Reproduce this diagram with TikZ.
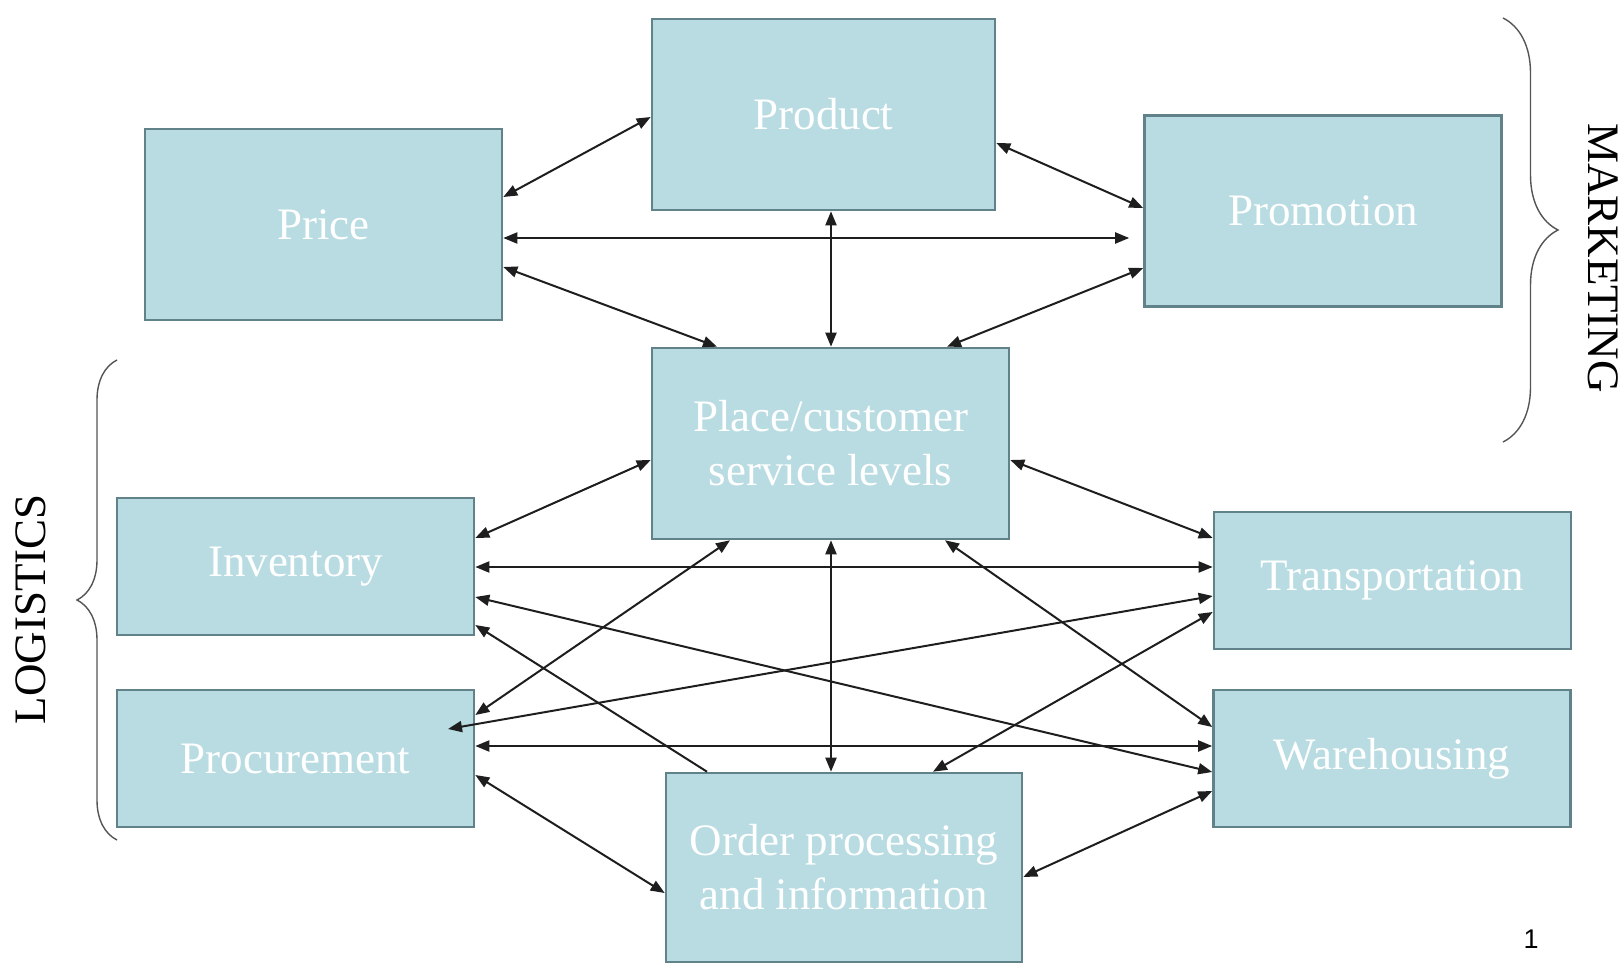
\documentclass[tikz,border=0pt]{standalone}
\usepackage{fontspec}
\setmainfont{Liberation Serif}
\newfontfamily\numfont{Liberation Sans}
\usetikzlibrary{arrows.meta,decorations.pathreplacing}
\definecolor{boxfill}{HTML}{B8DCE2}
\definecolor{boxline}{HTML}{62828A}
\definecolor{arrowcol}{HTML}{1E1E1E}
\definecolor{bracecol}{HTML}{555555}
\tikzset{
  box/.style={draw=boxline, fill=boxfill, line width=2.6pt, text=white,
    font=\fontsize{45}{54}\selectfont, align=center, inner sep=0pt},
  topbox/.style={box, minimum width=357pt, minimum height=191pt},
  lowbox/.style={box, minimum width=357pt, minimum height=137pt},
  dar/.style={line width=2pt, draw=arrowcol,
    arrows={Triangle[length=14pt,width=11pt]-Triangle[length=14pt,width=11pt]}},
  sar/.style={line width=2pt, draw=arrowcol,
    arrows={-Triangle[length=14pt,width=11pt]}},
  bracestyle/.style={draw=bracecol, line width=1.4pt, decorate},
  sidelabel/.style={font=\fontsize{45}{54}\selectfont, text=black, inner sep=0pt}
}
\begin{document}
\begin{tikzpicture}[x=1pt,y=-1pt]
\useasboundingbox[fill=white] (0,0) rectangle (1623,963);

% boxes
\node[box, minimum width=343pt, minimum height=191pt] (product) at (823.5,114.5) {Product};
\node[topbox] (price) at (323.5,224.5) {Price};
\node[topbox] (promo) at (1323,211) {Promotion};
\node[topbox] (place) at (830.5,443.5) {Place/customer\\service levels};
\node[lowbox] (inv) at (295.5,566.5) {Inventory};
\node[lowbox] (proc) at (295.5,758.5) {Procurement};
\node[lowbox] (trans) at (1392.5,580.5) {Transportation};
\node[lowbox] (ware) at (1392,758.5) {Warehousing};
\node[box, minimum width=356pt, minimum height=189pt] (order) at (844,867.5) {Order processing\\and information};

% helper coordinate inside Procurement
\coordinate (procin) at (448,729);

% marketing connectors
\draw[dar] (price.east |- 0,197) -- (product.west |- 0,117);
\draw[dar, shorten >=14pt] (price.east |- 0,238) -- (promo.west |- 0,238);
\draw[dar] (price.east |- 0,267) -- (place.north -| 717,0);
\draw[dar] (product.east |- 0,143) -- (promo.west |- 0,208);
\draw[dar] (product.south -| 831,0) -- (place.north -| 831,0);
\draw[dar] (promo.west |- 0,268) -- (place.north -| 947,0);

% logistics connectors
\draw[dar] (place.west |- 0,460) -- (inv.east |- 0,538);
\draw[dar] (place.east |- 0,460) -- (trans.west |- 0,538);
\draw[dar] (inv.east |- 0,567) -- (trans.west |- 0,567);
\draw[dar] (inv.east |- 0,597) -- (ware.west |- 0,772);
\draw[dar] (procin) -- (trans.west |- 0,596);
\draw[dar] (proc.east |- 0,746) -- (ware.west |- 0,746);
\draw[dar] (proc.east |- 0,715) -- (place.south -| 730,0);
\draw[sar] (order.north -| 707,0) -- (inv.east |- 0,625);
\draw[dar] (proc.east |- 0,775) -- (order.west |- 0,893);
\draw[dar] (place.south -| 831,0) -- (order.north -| 831,0);
\draw[dar] (place.south -| 945,0) -- (ware.west |- 0,727);
\draw[dar] (trans.west |- 0,612) -- (order.north -| 933,0);
\draw[dar] (ware.west |- 0,791) -- (order.east |- 0,877);

% braces
\coordinate (lbA) at (117,840);
\coordinate (lbB) at (117,360);
\draw[bracestyle, decoration={brace, amplitude=40pt}] (lbA) -- (lbB);
\coordinate (mbA) at (1503,18);
\coordinate (mbB) at (1503,442);
\draw[bracestyle, decoration={brace, amplitude=55pt}] (mbA) -- (mbB);

\node[sidelabel, rotate=90] (logl) at (31,609) {LOGISTICS};
\node[sidelabel, rotate=-90] (mktl) at (1603,258) {MARKETING};

\node[font=\numfont\fontsize{27}{30}\selectfont, inner sep=0pt] (pnum) at (1531,939) {1};
\end{tikzpicture}
\end{document}
